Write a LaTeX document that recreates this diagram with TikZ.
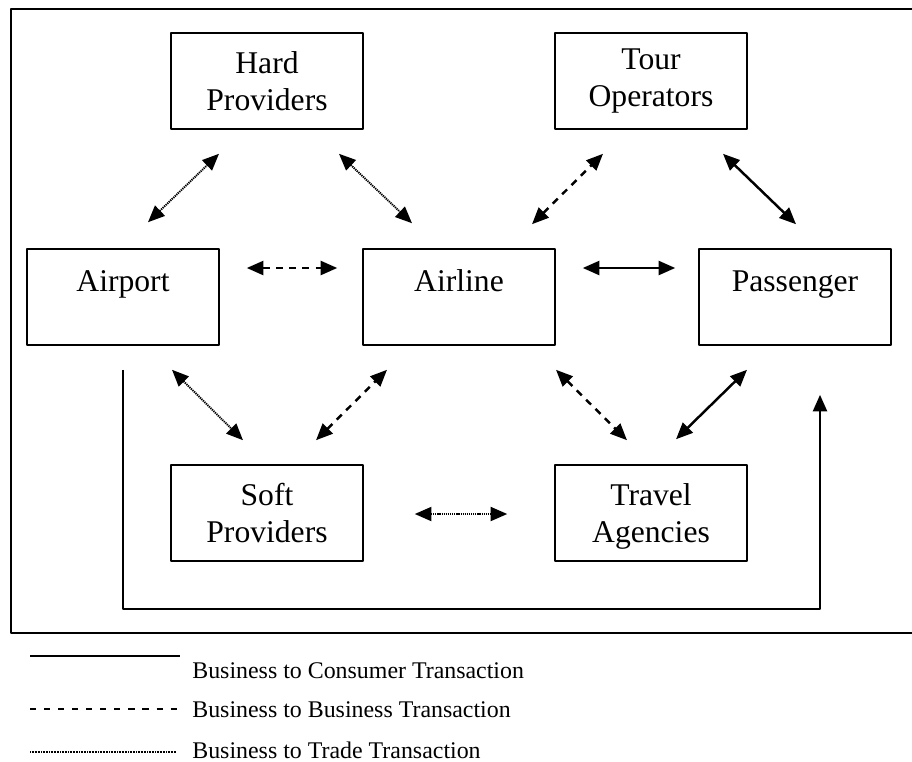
\documentclass[tikz,border=0pt]{standalone}
\usepackage{fontspec}
\setmainfont{Liberation Serif}
\usetikzlibrary{arrows.meta,calc}
\begin{document}
\begin{tikzpicture}[x=0.02cm, y=-0.02cm, line join=round, >={Triangle[length=9.5pt,width=8pt]},
  box/.style={draw, line width=0.9pt, minimum width=3.84cm, minimum height=1.92cm, inner sep=0pt, font=\fontsize{18}{21}\selectfont},
  onebox/.style={box, text height=0.84cm, text depth=1.08cm},
  twobox/.style={box, align=center},
  consumer/.style={line width=1.4pt},
  business/.style={line width=1.4pt, dash pattern=on 4pt off 3.5pt},
  trade/.style={line width=1.1pt, dash pattern=on 0.7pt off 0.5pt},
  legend/.style={anchor=base west, inner sep=0pt, font=\fontsize{13.6}{16}\selectfont}]
		\useasboundingbox (0,0) rectangle (912,761);
		\draw[line width=1pt] (11,9) rectangle (916,633);
		\node[twobox] (hard) at (267,81) {Hard\\Providers};
		\node[twobox] (tour) at (651,81) {Tour\\Operators};
		\node[onebox] (airport) at (123,297) {Airport};
		\node[onebox] (airline) at (459,297) {Airline};
		\node[onebox] (passenger) at (795,297) {Passenger};
		\node[twobox] (soft) at (267,513) {Soft\\Providers};
		\node[twobox] (travel) at (651,513) {Travel\\\smash{Agencies}};
		\coordinate (bend) at (820,609);
		\draw[trade,<->] ($(airport.north)+(25,-26)$) -- ($(hard.south)+(-48,24)$);
		\draw[trade,<->] ($(hard.south)+(72,24)$) -- ($(airline.north)+(-47,-25)$);
		\draw[business,<->] ($(airline.north)+(73,-24)$) -- ($(tour.south)+(-48,24)$);
		\draw[consumer,<->] ($(tour.south)+(72,24)$) -- ($(passenger.north)+(1,-24)$);
		\draw[business,<->] ($(airport.east)+(27,-29)$) -- ($(airline.west)+(-25,-29)$);
		\draw[consumer,<->] ($(airline.east)+(27,-29)$) -- ($(passenger.west)+(-23,-29)$);
		\draw[trade,<->] ($(airport.south)+(49,24)$) -- ($(soft.north)+(-24,-24)$);
		\draw[business,<->] ($(soft.north)+(49,-24)$) -- ($(airline.south)+(-72,24)$);
		\draw[business,<->] ($(airline.south)+(97,24)$) -- ($(travel.north)+(-24,-24)$);
		\draw[consumer,<->] ($(travel.north)+(25,-25)$) -- ($(passenger.south)+(-48,24)$);
		\draw[trade,<->] ($(soft.east)+(51,1)$) -- ($(travel.west)+(-47,1)$);
		\draw[consumer,->] ($(airport.south)+(0,24)$) |- (bend) -- ($(passenger.south)+(25,49)$);
		\node[legend] (lconsumer) at (192,678) {Business to Consumer Transaction};
		\node[legend] (lbusiness) at (192,717) {Business to Business Transaction};
		\node[legend] (ltrade) at (192,758) {Business to Trade Transaction};
		\draw[line width=1.1pt] (30,656) -- (180,656);
		\draw[line width=0.7pt, dash pattern=on 3.5pt off 4.5pt] (30,709) -- (180,709);
		\draw[line width=0.8pt, dash pattern=on 0.5pt off 0.4pt] (30,752) -- (176,752);
\end{tikzpicture}
\end{document}
